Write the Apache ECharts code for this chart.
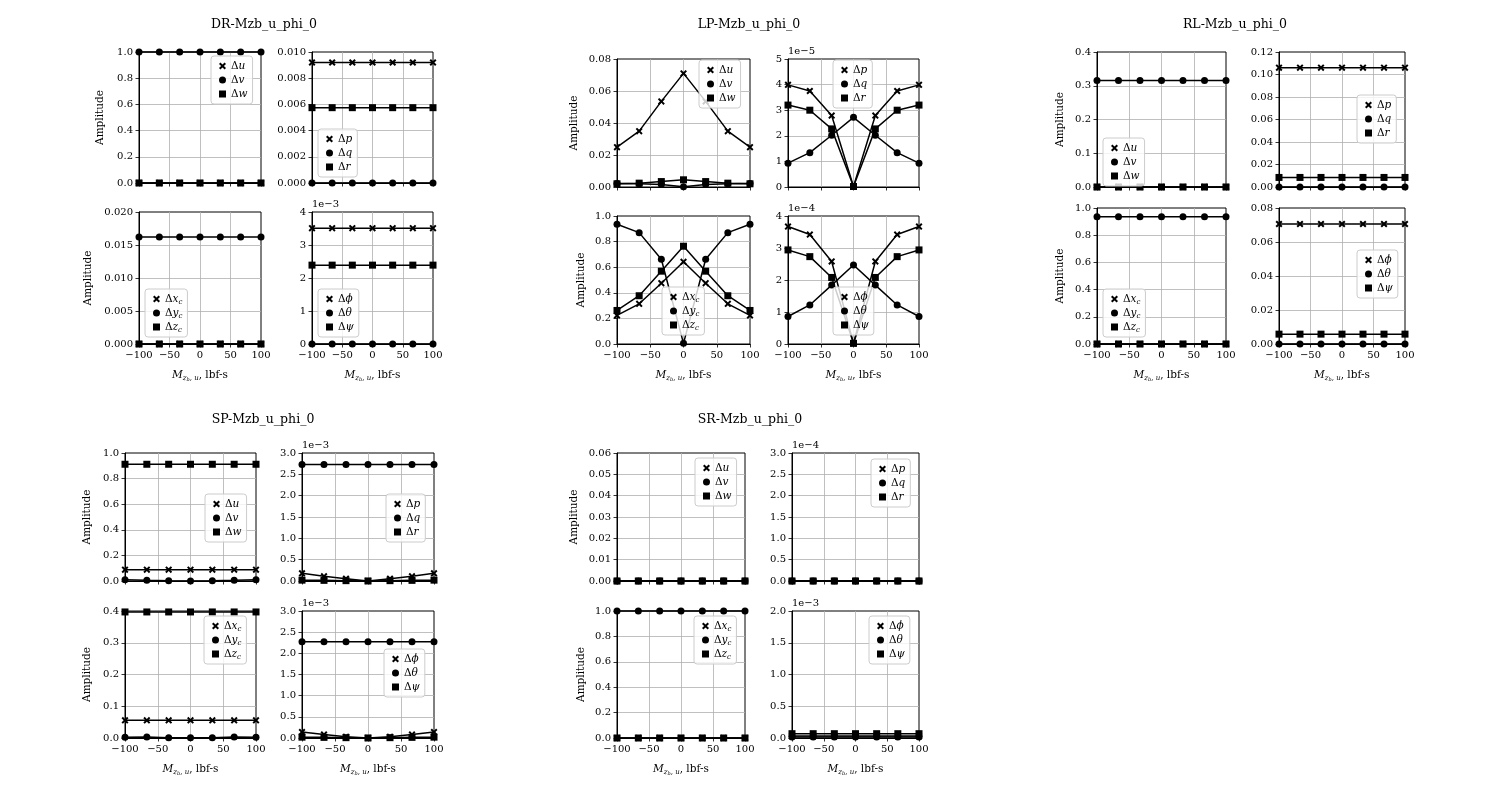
<!DOCTYPE html>
<html><head><meta charset="utf-8">
<script src="https://cdn.jsdelivr.net/npm/echarts@6/dist/echarts.min.js"></script>
<style>html,body{margin:0;padding:0;background:#fff}#c{width:1500px;height:800px}</style>
</head><body><div id="c"></div><script>
// ---------- data ----------
const X_VALUES = [-100, -66.67, -33.33, 0, 33.33, 66.67, 100];
const TITLES = ['DR-Mzb_u_phi_0', 'LP-Mzb_u_phi_0', 'RL-Mzb_u_phi_0', 'SP-Mzb_u_phi_0', 'SR-Mzb_u_phi_0'];

// DR
const DR_du = [0, 0, 0, 0, 0, 0, 0];
const DR_dv = [1, 1, 1, 1, 1, 1, 1];
const DR_dw = [0, 0, 0, 0, 0, 0, 0];
const DR_dp = [0.0092, 0.0092, 0.0092, 0.0092, 0.0092, 0.0092, 0.0092];
const DR_dq = [0, 0, 0, 0, 0, 0, 0];
const DR_dr = [0.00575, 0.00575, 0.00575, 0.00575, 0.00575, 0.00575, 0.00575];
const DR_dxc = [0, 0, 0, 0, 0, 0, 0];
const DR_dyc = [0.0162, 0.0162, 0.0162, 0.0162, 0.0162, 0.0162, 0.0162];
const DR_dzc = [0, 0, 0, 0, 0, 0, 0];
const DR_dphi = [0.00351, 0.00351, 0.00351, 0.00351, 0.00351, 0.00351, 0.00351];
const DR_dth = [0, 0, 0, 0, 0, 0, 0];
const DR_dpsi = [0.00239, 0.00239, 0.00239, 0.00239, 0.00239, 0.00239, 0.00239];

// LP
const LP_du = [0.0249, 0.0349, 0.0535, 0.0710, 0.0535, 0.0349, 0.0249];
const LP_dv = [0.0022, 0.0020, 0.0016, 0.0001, 0.0016, 0.0020, 0.0022];
const LP_dw = [0.0020, 0.0024, 0.0034, 0.0045, 0.0034, 0.0024, 0.0020];
const LP_dp = [3.99e-5, 3.75e-5, 2.79e-5, 0.02e-5, 2.79e-5, 3.75e-5, 3.99e-5];
const LP_dq = [0.93e-5, 1.34e-5, 2.02e-5, 2.72e-5, 2.02e-5, 1.34e-5, 0.93e-5];
const LP_dr = [3.20e-5, 3.00e-5, 2.27e-5, 0.02e-5, 2.27e-5, 3.00e-5, 3.20e-5];
const LP_dxc = [0.223, 0.314, 0.475, 0.642, 0.475, 0.314, 0.223];
const LP_dyc = [0.935, 0.870, 0.662, 0.005, 0.662, 0.870, 0.935];
const LP_dzc = [0.262, 0.377, 0.569, 0.764, 0.569, 0.377, 0.262];
const LP_dphi = [3.67e-4, 3.42e-4, 2.58e-4, 0.02e-4, 2.58e-4, 3.42e-4, 3.67e-4];
const LP_dth = [0.86e-4, 1.22e-4, 1.84e-4, 2.47e-4, 1.84e-4, 1.22e-4, 0.86e-4];
const LP_dpsi = [2.94e-4, 2.73e-4, 2.08e-4, 0.02e-4, 2.08e-4, 2.73e-4, 2.94e-4];

// RL
const RL_du = [0, 0, 0, 0, 0, 0, 0];
const RL_dv = [0.3155, 0.3155, 0.3155, 0.3155, 0.3155, 0.3155, 0.3155];
const RL_dw = [0, 0, 0, 0, 0, 0, 0];
const RL_dp = [0.1061, 0.1061, 0.1061, 0.1061, 0.1061, 0.1061, 0.1061];
const RL_dq = [0, 0, 0, 0, 0, 0, 0];
const RL_dr = [0.0085, 0.0085, 0.0085, 0.0085, 0.0085, 0.0085, 0.0085];
const RL_dxc = [0, 0, 0, 0, 0, 0, 0];
const RL_dyc = [0.936, 0.936, 0.936, 0.936, 0.936, 0.936, 0.936];
const RL_dzc = [0, 0, 0, 0, 0, 0, 0];
const RL_dphi = [0.0706, 0.0706, 0.0706, 0.0706, 0.0706, 0.0706, 0.0706];
const RL_dth = [0, 0, 0, 0, 0, 0, 0];
const RL_dpsi = [0.0058, 0.0058, 0.0058, 0.0058, 0.0058, 0.0058, 0.0058];

// SP
const SP_du = [0.0885, 0.0885, 0.0885, 0.0885, 0.0885, 0.0885, 0.0885];
const SP_dv = [0.009, 0.005, 0.002, 0.0005, 0.002, 0.005, 0.009];
const SP_dw = [0.912, 0.912, 0.912, 0.912, 0.912, 0.912, 0.912];
const SP_dp = [0.18e-3, 0.11e-3, 0.055e-3, 0.002e-3, 0.055e-3, 0.11e-3, 0.18e-3];
const SP_dq = [2.73e-3, 2.73e-3, 2.73e-3, 2.73e-3, 2.73e-3, 2.73e-3, 2.73e-3];
const SP_dr = [0.02e-3, 0.015e-3, 0.008e-3, 0.001e-3, 0.008e-3, 0.015e-3, 0.02e-3];
const SP_dxc = [0.0556, 0.0556, 0.0556, 0.0556, 0.0556, 0.0556, 0.0556];
const SP_dyc = [0.002, 0.003, 0.001, 0.0005, 0.001, 0.003, 0.002];
const SP_dzc = [0.397, 0.397, 0.397, 0.397, 0.397, 0.397, 0.397];
const SP_dphi = [0.14e-3, 0.08e-3, 0.03e-3, 0.002e-3, 0.03e-3, 0.08e-3, 0.14e-3];
const SP_dth = [2.276e-3, 2.276e-3, 2.276e-3, 2.276e-3, 2.276e-3, 2.276e-3, 2.276e-3];
const SP_dpsi = [0.02e-3, 0.015e-3, 0.008e-3, 0.001e-3, 0.008e-3, 0.015e-3, 0.02e-3];

// SR
const SR_du = [0, 0, 0, 0, 0, 0, 0];
const SR_dv = [0, 0, 0, 0, 0, 0, 0];
const SR_dw = [0, 0, 0, 0, 0, 0, 0];
const SR_dp = [0, 0, 0, 0, 0, 0, 0];
const SR_dq = [0, 0, 0, 0, 0, 0, 0];
const SR_dr = [0, 0, 0, 0, 0, 0, 0];
const SR_dxc = [0, 0, 0, 0, 0, 0, 0];
const SR_dyc = [1, 1, 1, 1, 1, 1, 1];
const SR_dzc = [0, 0, 0, 0, 0, 0, 0];
const SR_dphi = [0.03e-3, 0.03e-3, 0.03e-3, 0.03e-3, 0.03e-3, 0.03e-3, 0.03e-3];
const SR_dth = [0.015e-3, 0.015e-3, 0.015e-3, 0.015e-3, 0.015e-3, 0.015e-3, 0.015e-3];
const SR_dpsi = [0.068e-3, 0.068e-3, 0.068e-3, 0.068e-3, 0.068e-3, 0.068e-3, 0.068e-3];

// ---------- styling / layout ----------
const FONT = 'DejaVu Serif';
const XSYM = 'path://M2,0 L5,3 L8,0 L10,2 L7,5 L10,8 L8,10 L5,7 L2,10 L0,8 L3,5 L0,2 Z';
const SETS = {
  uvw: ['du', 'dv', 'dw'], pqr: ['dp', 'dq', 'dr'],
  xyz: ['dxc', 'dyc', 'dzc'], ang: ['dphi', 'dth', 'dpsi']
};
const SYMS = [XSYM, 'circle', 'rect'];
const SIZES = [7, 7, 7];
const LABELS = {
  du: '{n|Δ}{i|u}', dv: '{n|Δ}{i|v}', dw: '{n|Δ}{i|w}',
  dp: '{n|Δ}{i|p}', dq: '{n|Δ}{i|q}', dr: '{n|Δ}{i|r}',
  dxc: '{n|Δ}{i|x}{s|c}', dyc: '{n|Δ}{i|y}{s|c}', dzc: '{n|Δ}{i|z}{s|c}',
  dphi: '{n|Δ}{i|ϕ}', dth: '{n|Δ}{i|θ}', dpsi: '{n|Δ}{i|ψ}'
};
const RICH = {
  n: {fontFamily: FONT, fontSize: 10.5, color: '#000', lineHeight: 14},
  i: {fontFamily: FONT, fontSize: 10.5, fontStyle: 'italic', color: '#000', lineHeight: 14},
  s: {fontFamily: FONT, fontSize: 7, fontStyle: 'italic', color: '#000', lineHeight: 9, verticalAlign: 'bottom'},
  ss: {fontFamily: FONT, fontSize: 5, fontStyle: 'italic', color: '#000', lineHeight: 6, verticalAlign: 'bottom'}
};
const XNAME = '{i|M}{s|z}{ss|b}{s|, u}{n|, lbf-s}';

const panels = [
  // DR
  {g: [139, 52, 122, 131], set: 'uvw', d: [DR_du, DR_dv, DR_dw], max: 1.0, step: 0.2, dec: 1, lg: [211, 56], yname: 33},
  {g: [312, 52, 121, 131], set: 'pqr', d: [DR_dp, DR_dq, DR_dr], max: 0.010, step: 0.002, dec: 3, lg: [318, 129]},
  {g: [139, 212, 122, 132], set: 'xyz', d: [DR_dxc, DR_dyc, DR_dzc], max: 0.020, step: 0.005, dec: 3, lg: [145, 289], yname: 45, xname: true},
  {g: [312, 212, 121, 132], set: 'ang', d: [DR_dphi, DR_dth, DR_dpsi], max: 4e-3, step: 1e-3, dec: 0, exp: -3, lg: [318, 289], xname: true},
  // LP
  {g: [617, 59, 133, 128], set: 'uvw', d: [LP_du, LP_dv, LP_dw], max: 0.08, step: 0.02, dec: 2, lg: [699, 60], yname: 37},
  {g: [788, 59, 131, 128], set: 'pqr', d: [LP_dp, LP_dq, LP_dr], max: 5e-5, step: 1e-5, dec: 0, exp: -5, lg: [833, 60]},
  {g: [617, 216, 133, 128], set: 'xyz', d: [LP_dxc, LP_dyc, LP_dzc], max: 1.0, step: 0.2, dec: 1, lg: [662, 287], yname: 30, xname: true},
  {g: [788, 216, 131, 128], set: 'ang', d: [LP_dphi, LP_dth, LP_dpsi], max: 4e-4, step: 1e-4, dec: 0, exp: -4, lg: [833, 287], xname: true},
  // RL
  {g: [1097, 52, 129, 135], set: 'uvw', d: [RL_du, RL_dv, RL_dw], max: 0.4, step: 0.1, dec: 1, lg: [1103, 138], yname: 31},
  {g: [1279, 52, 126, 135], set: 'pqr', d: [RL_dp, RL_dq, RL_dr], max: 0.12, step: 0.02, dec: 2, lg: [1357, 95]},
  {g: [1097, 208, 129, 136], set: 'xyz', d: [RL_dxc, RL_dyc, RL_dzc], max: 1.0, step: 0.2, dec: 1, lg: [1103, 289], yname: 31, xname: true},
  {g: [1279, 208, 126, 136], set: 'ang', d: [RL_dphi, RL_dth, RL_dpsi], max: 0.08, step: 0.02, dec: 2, lg: [1357, 250], xname: true},
  // SP
  {g: [125, 453, 131, 128], set: 'uvw', d: [SP_du, SP_dv, SP_dw], max: 1.0, step: 0.2, dec: 1, lg: [205, 494], yname: 32},
  {g: [302, 453, 132, 128], set: 'pqr', d: [SP_dp, SP_dq, SP_dr], max: 3e-3, step: 0.5e-3, dec: 1, exp: -3, lg: [386, 494]},
  {g: [125, 611, 131, 127], set: 'xyz', d: [SP_dxc, SP_dyc, SP_dzc], max: 0.4, step: 0.1, dec: 1, lg: [204, 616], yname: 32, xname: true},
  {g: [302, 611, 132, 127], set: 'ang', d: [SP_dphi, SP_dth, SP_dpsi], max: 3e-3, step: 0.5e-3, dec: 1, exp: -3, lg: [384, 649], xname: true},
  // SR
  {g: [617, 453, 128, 128], set: 'uvw', d: [SR_du, SR_dv, SR_dw], max: 0.06, step: 0.01, dec: 2, lg: [695, 458], yname: 37},
  {g: [792, 453, 127, 128], set: 'pqr', d: [SR_dp, SR_dq, SR_dr], max: 3e-4, step: 0.5e-4, dec: 1, exp: -4, lg: [871, 459]},
  {g: [617, 611, 128, 127], set: 'xyz', d: [SR_dxc, SR_dyc, SR_dzc], max: 1.0, step: 0.2, dec: 1, lg: [694, 616], yname: 30, xname: true},
  {g: [792, 611, 127, 127], set: 'ang', d: [SR_dphi, SR_dth, SR_dpsi], max: 2e-3, step: 0.5e-3, dec: 1, exp: -3, lg: [869, 616], xname: true}
];
const TITLE_POS = [[264, 25], [749, 25], [1235, 25], [263, 420], [750, 420]];

const fmtX = v => (v < 0 ? '\u2212' + (-v) : String(v));

const grid = [], xAxis = [], yAxis = [], series = [], legend = [], graphic = [];
panels.forEach((p, i) => {
  const [l, t, w, h] = p.g;
  grid.push({left: l, top: t, width: w, height: h, show: true, borderColor: '#000', borderWidth: 1, backgroundColor: 'transparent'});
  xAxis.push({
    type: 'value', gridIndex: i, min: -100, max: 100, interval: 50,
    axisLine: {show: true, onZero: false, lineStyle: {color: '#000', width: 1}},
    axisTick: {show: true, inside: false, length: 3.5, lineStyle: {color: '#000', width: 0.8}},
    axisLabel: {show: !!p.xname, margin: 6, fontFamily: FONT, fontSize: 10, color: '#000', formatter: fmtX, showMinLabel: true, showMaxLabel: true},
    splitLine: {show: true, showMinLine: false, showMaxLine: false, lineStyle: {color: '#b0b0b0', width: 0.8}},
    name: p.xname ? XNAME : '', nameLocation: 'middle', nameGap: 24,
    nameTextStyle: {fontFamily: FONT, fontSize: 10, color: '#000', rich: RICH}
  });
  const ya = {
    type: 'value', gridIndex: i, min: 0, max: p.max, interval: p.step,
    axisLine: {show: true, onZero: false, lineStyle: {color: '#000', width: 1}},
    axisTick: {show: true, inside: false, length: 3.5, lineStyle: {color: '#000', width: 0.8}},
    axisLabel: {margin: 6, fontFamily: FONT, fontSize: 10, color: '#000', showMinLabel: true, showMaxLabel: true,
      formatter: v => (p.exp ? v / Math.pow(10, p.exp) : v).toFixed(p.dec)},
    splitLine: {show: true, showMinLine: false, showMaxLine: false, lineStyle: {color: '#b0b0b0', width: 0.8}}
  };
  if (p.yname) {
    ya.name = 'Amplitude'; ya.nameLocation = 'middle'; ya.nameGap = p.yname;
    ya.nameTextStyle = {fontFamily: FONT, fontSize: 10.5, color: '#000'};
  } else if (p.exp) {
    ya.name = '1e\u2212' + (-p.exp); ya.nameLocation = 'end'; ya.nameGap = 3;
    ya.nameTextStyle = {fontFamily: FONT, fontSize: 10, color: '#000', align: 'left', verticalAlign: 'bottom'};
  }
  yAxis.push(ya);
  const names = SETS[p.set];
  names.forEach((n, k) => {
    series.push({
      type: 'line', name: n, xAxisIndex: i, yAxisIndex: i,
      data: X_VALUES.map((x, j) => [x, p.d[k][j]]),
      symbol: SYMS[k], symbolSize: SIZES[k], showSymbol: true, clip: false,
      lineStyle: {color: '#000', width: 1.5}, itemStyle: {color: '#000'},
      emphasis: {disabled: true}, animation: false, z: 2 + k
    });
  });
  legend.push({
    left: p.lg[0], top: p.lg[1], orient: 'vertical', itemWidth: 7, itemHeight: 7, itemGap: 0,
    padding: [3, 5, 3, 8], backgroundColor: 'rgba(255,255,255,0.8)', borderColor: '#cccccc',
    borderWidth: 1, borderRadius: 3, selectedMode: false, z: 10,
    data: names.map((n, k) => ({name: n, icon: SYMS[k]})),
    formatter: n => LABELS[n],
    textStyle: {fontFamily: FONT, fontSize: 10.5, color: '#000', lineHeight: 14, rich: RICH}
  });
});
TITLES.forEach((t, i) => {
  graphic.push({type: 'text', x: TITLE_POS[i][0], y: TITLE_POS[i][1], silent: true,
    style: {text: t, fill: '#000', font: '12.5px "DejaVu Serif"', align: 'center', verticalAlign: 'middle'}});
});

const chart = echarts.init(document.getElementById('c'), null, {renderer: 'canvas'});
chart.setOption({animation: false, backgroundColor: '#fff', grid, xAxis, yAxis, series, legend, graphic, tooltip: {show: false}});
</script></body></html>
